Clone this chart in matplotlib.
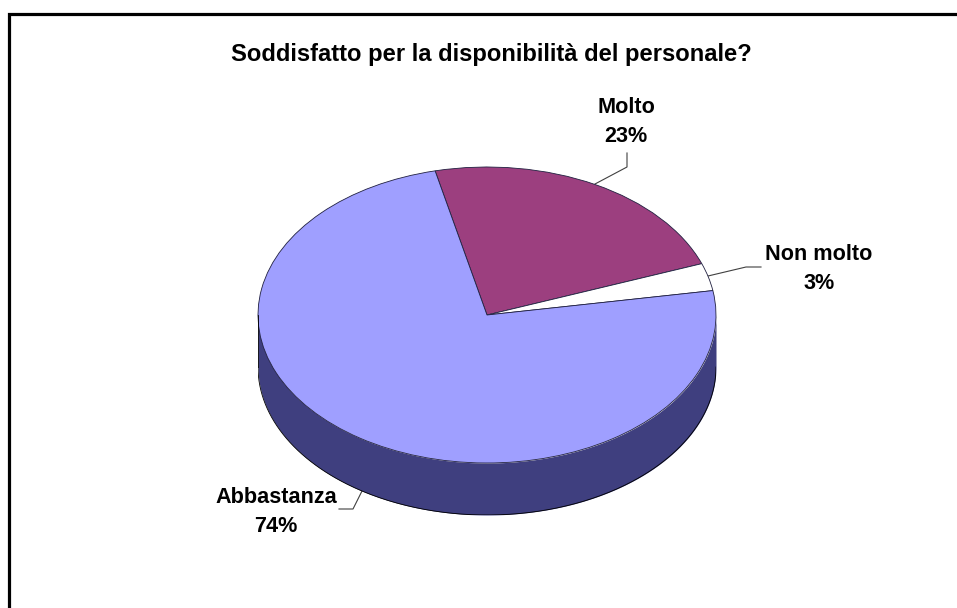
import numpy as np
import matplotlib
matplotlib.use("Agg")
import matplotlib.pyplot as plt

plt.rcParams['font.family'] = ['Liberation Sans', 'DejaVu Sans']

W, H = 957, 608

title = "Soddisfatto per la disponibilità del personale?"
categories = ["Molto", "Non molto", "Abbastanza"]
values = [23, 3, 74]
colors = ['#9c3f7f', '#ffffff', '#9f9fff']
wall_color = '#3f3f7f'
start_angle = 103.1

# ellipse of the pie top in pixels
cx, cy, rx, ry = 487, 315, 229, 148
depth = 52

fig = plt.figure(figsize=(W / 100, H / 100), dpi=100)

# overlay in pixel coordinates for the frame, leaders and labels
bg = fig.add_axes([0, 0, 1, 1])
bg.set_xlim(0, W)
bg.set_ylim(H, 0)
bg.axis('off')
bg.plot([8.5, 8.5, W], [H, 13.5, 13.5], color='black', lw=2.3, solid_joinstyle='miter', solid_capstyle='butt')

# pie squashed into an ellipse, axes extended below for the wall
top = cy - ry
bottom = cy + ry + depth
ax = fig.add_axes([(cx - rx) / W, 1 - bottom / H, 2 * rx / W, (bottom - top) / H])
ax.patch.set_alpha(0)

theta = np.linspace(np.pi, 2 * np.pi, 300)
ax.fill_between(np.cos(theta), np.sin(theta), np.sin(theta) - depth / ry, color=wall_color, lw=0)
ax.plot(np.cos(theta), np.sin(theta) - depth / ry, color='black', lw=0.6)
ax.plot([-1, -1], [0, -depth / ry], color='black', lw=0.6)
ax.plot([1, 1], [0, -depth / ry], color='black', lw=0.6)

ax.pie(values, colors=colors, startangle=start_angle, counterclock=False, radius=1,
       wedgeprops=dict(edgecolor='#202040', linewidth=0.6), frame=True)
ax.set_aspect('auto')
ax.set_xlim(-1, 1)
ax.set_ylim(-1 - depth / ry, 1)
ax.axis('off')

bold = dict(fontweight='bold', color='black', ha='center', va='center')
bg.text(491, 54, title, fontsize=17.1, **bold)

bg.text(626, 122, f"{categories[0]}\n{values[0]}%", fontsize=15.6, linespacing=1.47, **bold)
bg.text(819, 269, f"{categories[1]}\n{values[1]}%", fontsize=15.6, linespacing=1.47, **bold)
bg.text(276, 512, f"{categories[2]}\n{values[2]}%", fontsize=15.6, linespacing=1.47, **bold)

leader = dict(color='#404040', lw=0.8)
bg.plot([627, 627, 595], [153, 167, 184], **leader)
bg.plot([708, 746, 761], [276, 267, 267], **leader)
bg.plot([362, 353, 339], [491, 509, 509], **leader)

fig.savefig("out.png", dpi=100, facecolor='white')
